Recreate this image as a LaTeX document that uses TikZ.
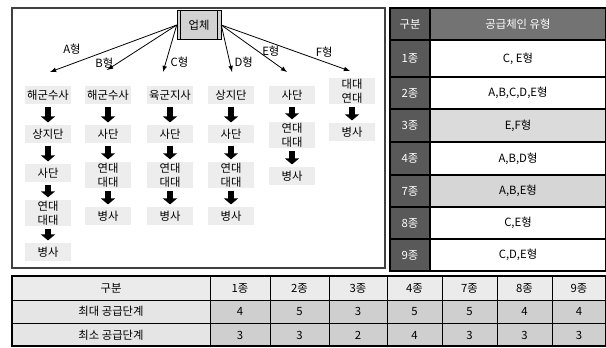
\documentclass[tikz,border=0pt]{standalone}
\usepackage{fontspec}
\setmainfont{Noto Sans CJK KR}
\usetikzlibrary{arrows.meta}

\begin{document}
\begin{tikzpicture}[
    x=0.75pt, y=-0.75pt,
    font=\fontsize{8.5}{10.5}\selectfont,
    unit/.style={fill=gray!14, inner sep=1pt, minimum width=35pt, minimum height=14pt, align=center},
    firm/.style={draw, fill=gray!35, minimum width=33pt, minimum height=22pt},
    line/.style={draw, -latex, semithick},
    down/.style={draw, line width=4.5pt, -{Triangle[width=10.5pt, length=4.5pt]}, shorten <=1.5pt, shorten >=1.5pt},
    rule/.style={draw, line width=0.9pt},
    grid/.style={draw, line width=0.6pt}
]
    \useasboundingbox (0,0) rectangle (606,347);

    % supply chain types
    \draw [black!75, line width=1pt] (12,8) rectangle (385,268);
    \node [firm] (hq) at (199,25) {업체};
    \draw ([xshift=3pt]hq.north west) -- ([xshift=3pt]hq.south west);
    \draw ([xshift=-3pt]hq.north east) -- ([xshift=-3pt]hq.south east);

    \node [unit] (a_0) at (48,95) {해군수사};
    \node [unit] (a_1) at (48,134) {상지단};
    \node [unit] (a_2) at (48,173) {사단};
    \node [unit] (a_3) at (48,213) {연대\\대대};
    \node [unit] (a_4) at (48,252) {병사};

    \node [unit] (b_0) at (108,95) {해군수사};
    \node [unit] (b_1) at (108,134) {사단};
    \node [unit] (b_2) at (108,175) {연대\\대대};
    \node [unit] (b_3) at (108,216) {병사};

    \node [unit] (c_0) at (170,95) {육군지사};
    \node [unit] (c_1) at (170,134) {사단};
    \node [unit] (c_2) at (170,175) {연대\\대대};
    \node [unit] (c_3) at (170,216) {병사};

    \node [unit] (d_0) at (231,95) {상지단};
    \node [unit] (d_1) at (231,134) {사단};
    \node [unit] (d_2) at (231,175) {연대\\대대};
    \node [unit] (d_3) at (231,216) {병사};

    \node [unit] (e_0) at (292,95) {사단};
    \node [unit] (e_1) at (292,135) {연대\\대대};
    \node [unit] (e_2) at (292,176) {병사};

    \node [unit] (f_0) at (352,91) {대대\\연대};
    \node [unit] (f_1) at (352,132) {병사};

    \coordinate (a_in) at (50,72);
    \coordinate (b_in) at (107,70);
    \coordinate (c_in) at (163,72);
    \coordinate (d_in) at (232,72);
    \coordinate (e_in) at (287,72);
    \coordinate (f_in) at (350,71);

    \draw [line] (hq.west) -- (a_in) node[pos=0.72, above left] (t_a) {A형};
    \draw [line] (hq.west) -- (b_in) node[pos=0.84, left] (t_b) {B형};
    \draw [line] (hq.west) -- (c_in) node[pos=0.8, right] (t_c) {C형};
    \draw [line] (hq.east) -- (d_in) node[pos=0.8, right] (t_d) {D형};
    \draw [line] (hq.east) -- (e_in) node[pos=0.55, right] (t_e) {E형};
    \draw [line] (hq.east) -- (f_in) node[pos=0.8, above] (t_f) {F형};

    \draw [down] (a_0) -- (a_1);
    \draw [down] (a_1) -- (a_2);
    \draw [down] (a_2) -- (a_3);
    \draw [down] (a_3) -- (a_4);
    \draw [down] (b_0) -- (b_1);
    \draw [down] (b_1) -- (b_2);
    \draw [down] (b_2) -- (b_3);
    \draw [down] (c_0) -- (c_1);
    \draw [down] (c_1) -- (c_2);
    \draw [down] (c_2) -- (c_3);
    \draw [down] (d_0) -- (d_1);
    \draw [down] (d_1) -- (d_2);
    \draw [down] (d_2) -- (d_3);
    \draw [down] (e_0) -- (e_1);
    \draw [down] (e_1) -- (e_2);
    \draw [down] (f_0) -- (f_1);

    % types per kind
    \fill [black!65] (390,8) rectangle (430,271);
    \fill [black!55] (430,8) rectangle (606,40);
    \fill [gray!28] (430,109) rectangle (606,142);
    \fill [gray!32] (430,175) rectangle (606,207);
    \node [text=white] (kind) at (410,24) {구분};
    \node [text=white] (chain) at (518,24) {공급체인 유형};
    \foreach \y/\k/\v [count=\i] in {58.5/1종/{C, E형}, 93/2종/{A,B,C,D,E형}, 125.5/3종/{E,F형}, 158.5/4종/{A,B,D형}, 191/7종/{A,B,E형}, 223/8종/{C,E형}, 255/9종/{C,D,E형}} {
        \node [text=white] (kind_\i) at (410,\y) {\k};
        \node (chain_\i) at (518,\y) {\v};
    }
    \foreach \y in {40,77,109,142,175,207,239}
        \draw [rule] (390,\y) -- (606,\y);
    \draw [rule] (430,8) -- (430,271);
    \draw [rule] (390,8) rectangle (606,271);

    % supply steps
    \fill [gray!16] (12,276) rectangle (606,300);
    \fill [gray!20] (12,300) rectangle (210,346);
    \fill [gray!38] (210,300) rectangle (606,346);
    \node (step_head) at (111,288) {구분};
    \node (step_max) at (111,311.5) {최대 공급단계};
    \node (step_min) at (111,335) {최소 공급단계};
    \foreach \x/\k/\mx/\mn [count=\i] in {240/1종/4/3, 299.5/2종/5/3, 358/3종/3/2, 414.5/4종/5/4, 469.5/7종/5/3, 524.5/8종/4/3, 579/9종/4/3} {
        \node (col_\i) at (\x,288) {\k};
        \node (max_\i) at (\x,311.5) {\mx};
        \node (min_\i) at (\x,335) {\mn};
    }
    \foreach \x in {210,270,329,387,442,497,552}
        \draw [grid] (\x,276) -- (\x,346);
    \draw [grid] (12,300) -- (606,300) (12,323) -- (606,323);
    \draw [rule] (12,276) rectangle (605.5,346);
\end{tikzpicture}
\end{document}
